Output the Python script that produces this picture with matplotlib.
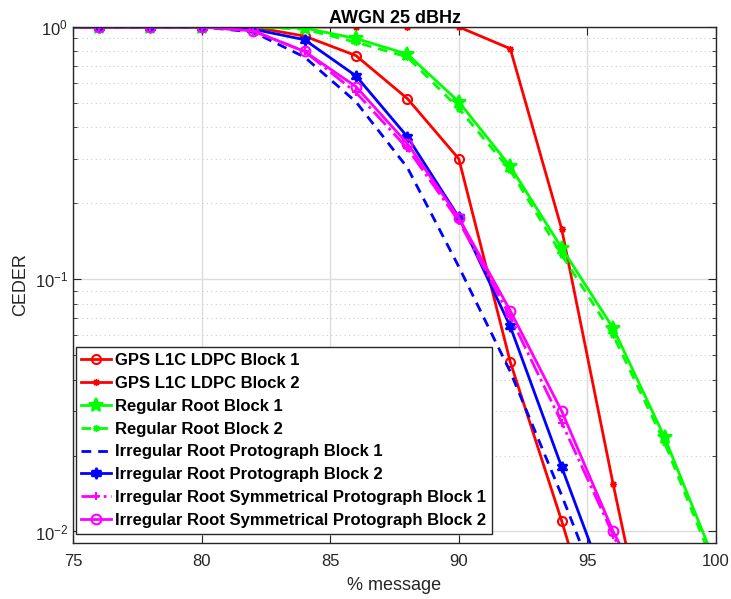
import matplotlib
matplotlib.use('Agg')
import matplotlib.pyplot as plt
from matplotlib.ticker import LogLocator, NullFormatter

plt.rcParams['font.family'] = ['Liberation Sans', 'DejaVu Sans']
plt.rcParams['mathtext.fontset'] = 'custom'
plt.rcParams['mathtext.rm'] = 'Liberation Sans'

# percentage of message received (x axis)
pct = [74, 76, 78, 80, 82, 84, 86, 88, 90, 92, 94, 96, 98, 100]

gps_block1 = [1, 1, 1, 1, 1, 0.92, 0.77, 0.52, 0.30, 0.047, 0.011, 0.0023, 0.0005, 0.0001]
gps_block2 = [1, 1, 1, 1, 1, 1, 1, 1, 1, 0.82, 0.158, 0.0154, 0.0017, 0.0002]
reg_block1 = [1, 1, 1, 1, 1, 0.99, 0.90, 0.78, 0.505, 0.28, 0.133, 0.064, 0.0236, 0.0074]
reg_block2 = [1, 1, 1, 1, 1, 0.98, 0.87, 0.76, 0.475, 0.27, 0.125, 0.060, 0.0225, 0.0070]
irr_block1 = [1, 1, 1, 1, 0.955, 0.76, 0.505, 0.277, 0.112, 0.043, 0.0139, 0.0042, 0.001, 0.0002]
irr_block2 = [1, 1, 1, 1, 0.98, 0.89, 0.64, 0.367, 0.176, 0.065, 0.018, 0.0051, 0.0012, 0.0003]
sym_block1 = [1, 1, 1, 1, 0.965, 0.80, 0.55, 0.33, 0.17, 0.071, 0.027, 0.0097, 0.0035, 0.0008]
sym_block2 = [1, 1, 1, 1, 0.965, 0.80, 0.58, 0.345, 0.175, 0.075, 0.030, 0.010, 0.004, 0.0008]

asterisk = (8, 2, 0)
dashed = (0, (3.5, 2.5))
series = [
    (gps_block1, 'GPS L1C LDPC Block 1', dict(color='#ff0000', ls='-', marker='o', ms=6.5, mew=1.5, mfc='none')),
    (gps_block2, 'GPS L1C LDPC Block 2', dict(color='#ff0000', ls='-', marker=asterisk, ms=5, mew=1)),
    (reg_block1, 'Regular Root Block 1', dict(color='#00ff00', ls='-', marker='*', ms=10, mew=1.5)),
    (reg_block2, 'Regular Root Block 2', dict(color='#00ff00', ls=dashed, marker=asterisk, ms=5, mew=1)),
    (irr_block1, 'Irregular Root Protograph Block 1', dict(color='#0000ff', ls=dashed)),
    (irr_block2, 'Irregular Root Protograph Block 2', dict(color='#0000ff', ls='-', marker=(6, 1, 0), ms=8, mew=1.5)),
    (sym_block1, 'Irregular Root Symmetrical Protograph Block 1', dict(color='#ff00ff', ls='-.', marker='+', ms=6, mew=1.5)),
    (sym_block2, 'Irregular Root Symmetrical Protograph Block 2', dict(color='#ff00ff', ls='-', marker='o', ms=7, mew=1.5, mfc='none')),
]

fig = plt.figure(figsize=(7.31, 5.99), dpi=100)
ax = fig.add_axes([0.0999, 0.0935, 0.8796, 0.8615])

for vals, label, style in series:
    ax.semilogy(pct, vals, lw=2, label=label, **style)

ax.set_xlim(75, 100)
ax.set_ylim(0.009, 1)
ax.set_xticks([75, 80, 85, 90, 95, 100])
ax.yaxis.set_major_locator(LogLocator(base=10, numticks=10))
ax.yaxis.set_minor_locator(LogLocator(base=10, subs=range(2, 10), numticks=20))
ax.yaxis.set_minor_formatter(NullFormatter())

ax.grid(True, which='major', color='#dcdcdc', lw=1, ls='-')
ax.grid(True, which='minor', axis='y', color='#cccccc', lw=0.8, ls=(0, (1, 3)))
ax.set_axisbelow(True)

dark = '#262626'
for sp in ax.spines.values():
    sp.set_color(dark)
    sp.set_linewidth(1)
ax.tick_params(which='both', direction='in', top=True, right=True, colors=dark, labelsize=12)
ax.tick_params(which='major', length=6)
ax.tick_params(which='minor', length=3)
ax.tick_params(axis='x', pad=8)

ax.set_xlabel('% message', fontsize=13, color=dark, labelpad=6)
ax.set_ylabel('CEDER', fontsize=13, color=dark)
ax.set_title('AWGN 25 dBHz', fontsize=13, fontweight='bold', pad=3)

leg = ax.legend(loc='lower left', bbox_to_anchor=(0.004, 0.018), fancybox=False,
                framealpha=1, edgecolor=dark, prop={'weight': 'bold', 'size': 12},
                handlelength=1.8, handletextpad=0.2, labelspacing=0.47, borderpad=0.35,
                borderaxespad=0)
leg.get_frame().set_linewidth(1)

fig.savefig('out.png', dpi=100)
